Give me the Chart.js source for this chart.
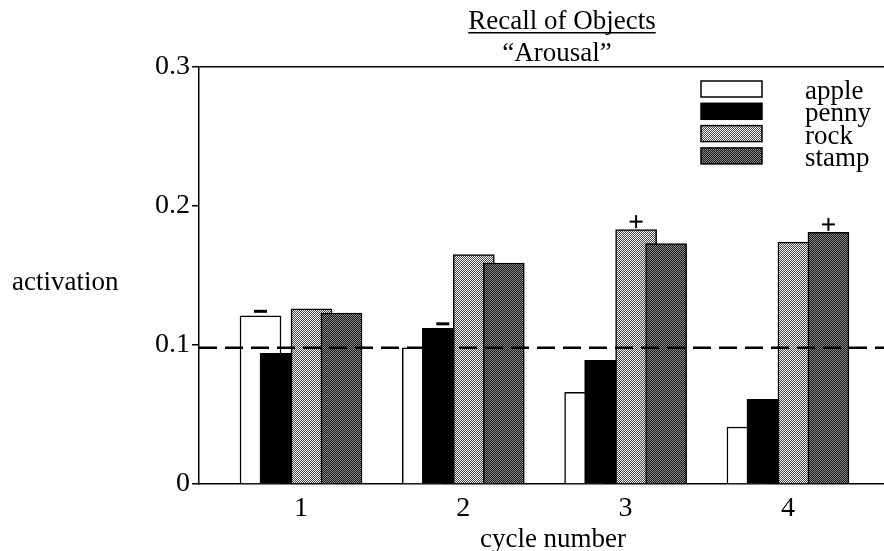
<!DOCTYPE html>
<html>
<head>
<meta charset="utf-8">
<title>Recall of Objects</title>
<script src="https://cdn.jsdelivr.net/npm/chart.js@4.4.1/dist/chart.umd.min.js"></script>
<style>
  html, body { margin: 0; padding: 0; background: #fff; }
  canvas { display: block; }
</style>
</head>
<body>
<canvas id="recall" width="884" height="551"></canvas>
<script>
const cycles = [1, 2, 3, 4];
const seriesNames = ['apple', 'penny', 'rock', 'stamp'];
const apple = [0.121, 0.098, 0.066, 0.041];
const penny = [0.094, 0.112, 0.089, 0.061];
const rock = [0.126, 0.165, 0.183, 0.174];
const stamp = [0.123, 0.159, 0.173, 0.181];
const yTicks = [0, 0.1, 0.2, 0.3];
const baseline = 0.098;
// series, cycle, sign
const marks = [
    ['apple', 1, '-'],
    ['penny', 2, '-'],
    ['rock', 3, '+'],
    ['stamp', 4, '+'],
];

const seriesValues = { apple, penny, rock, stamp };
const FONT = '"Liberation Serif", "Times New Roman", serif';

// bars inside a cycle overlap, so each series sits at its own shift from the cycle
const barShift = { apple: -0.2495, penny: -0.1263, rock: 0.0647, stamp: 0.2495 };

function makeStipple(light, dark) {
    const c = document.createElement('canvas');
    c.width = 2;
    c.height = 2;
    const g = c.getContext('2d');
    g.fillStyle = light;
    g.fillRect(0, 0, 2, 2);
    g.fillStyle = dark;
    g.fillRect(1, 0, 1, 1);
    g.fillRect(0, 1, 1, 1);
    return g.createPattern(c, 'repeat');
}

const fills = {
    apple: '#ffffff',
    penny: '#000000',
    rock: makeStipple('#f4f4f4', '#4a4a4a'),
    stamp: makeStipple('#8c8c8c', '#141414'),
};

const datasets = seriesNames.map((name, i) => ({
    label: name,
    data: cycles.map((c, j) => ({ x: c + barShift[name], y: seriesValues[name][j] })),
    backgroundColor: fills[name],
    borderColor: '#000',
    borderWidth: 1.5,
    borderSkipped: 'start',
    barThickness: 41,
    grouped: false,
    // later series are painted over earlier ones
    order: seriesNames.length - i,
}));

const decorations = {
    id: 'decorations',
    afterDatasetsDraw(chart) {
        const { ctx, chartArea: area, scales: { y } } = chart;
        ctx.save();

        // dashed reference level
        const yb = y.getPixelForValue(baseline);
        ctx.strokeStyle = '#000';
        ctx.lineWidth = 2.5;
        ctx.setLineDash([18, 8]);
        ctx.beginPath();
        ctx.moveTo(area.left, yb);
        ctx.lineTo(area.right, yb);
        ctx.stroke();
        ctx.setLineDash([]);

        // + / - marks over bars
        ctx.fillStyle = '#000';
        marks.forEach(([name, cycle, sign]) => {
            const meta = chart.getDatasetMeta(seriesNames.indexOf(name));
            const bar = meta.data[cycles.indexOf(cycle)];
            if (sign === '-') {
                ctx.fillRect(bar.x - 6.5, bar.y - 6, 13, 3);
            } else {
                const cy = bar.y - 8;
                ctx.fillRect(bar.x - 6.5, cy - 1, 13, 2);
                ctx.fillRect(bar.x - 1, cy - 6.5, 2, 13);
            }
        });
        ctx.restore();
    },
    afterDraw(chart) {
        const { ctx } = chart;
        ctx.save();
        ctx.fillStyle = '#000';
        ctx.textBaseline = 'alphabetic';
        ctx.font = '27px ' + FONT;

        // title
        ctx.textAlign = 'center';
        const title = 'Recall of Objects';
        ctx.fillText(title, 562, 29);
        const tw = ctx.measureText(title).width;
        ctx.fillRect(562 - tw / 2, 32, tw, 1.5);
        ctx.fillText('\u201CArousal\u201D', 557, 61);

        // axis titles
        ctx.fillText('cycle number', 553, 547);
        ctx.textAlign = 'left';
        ctx.fillText('activation', 12, 290);

        // legend
        seriesNames.forEach((name, i) => {
            const top = 81 + i * 22.3;
            ctx.fillStyle = chart.data.datasets[i].backgroundColor;
            ctx.fillRect(701, top, 61, 16);
            ctx.strokeStyle = '#000';
            ctx.lineWidth = 1.5;
            ctx.strokeRect(701, top, 61, 16);
            ctx.fillStyle = '#000';
            ctx.fillText(name, 805, top + 18);
        });
        ctx.restore();
    },
};

new Chart(document.getElementById('recall'), {
    type: 'bar',
    data: { datasets },
    plugins: [decorations],
    options: {
        responsive: false,
        devicePixelRatio: 1,
        animation: false,
        events: [],
        layout: { padding: { top: 67, right: 0, bottom: 0, left: 0 } },
        plugins: {
            legend: { display: false },
            tooltip: { enabled: false },
            title: { display: false },
        },
        scales: {
            x: {
                type: 'linear',
                min: 0.3715,
                max: 4.592,
                offset: false,
                grid: { display: false, drawTicks: false },
                border: { color: '#000', width: 1.5 },
                afterBuildTicks: s => { s.ticks = cycles.map(v => ({ value: v })); },
                afterFit: s => { s.height = 67; },
                ticks: {
                    color: '#000',
                    font: { family: FONT, size: 28 },
                    padding: 8,
                    maxRotation: 0,
                    autoSkip: false,
                    callback: v => String(v),
                },
            },
            y: {
                min: 0,
                max: 0.3,
                afterBuildTicks: s => { s.ticks = yTicks.map(v => ({ value: v })); },
                afterFit: s => { s.width = 199; },
                grid: {
                    color: c => (c.tick && c.tick.value === 0.3 ? '#000' : 'rgba(0,0,0,0)'),
                    tickColor: '#000',
                    lineWidth: 1.5,
                    tickLength: 7,
                },
                border: { color: '#000', width: 1.5 },
                ticks: {
                    color: '#000',
                    font: { family: FONT, size: 28 },
                    padding: 2,
                    callback: v => (v === 0 ? '0' : v.toFixed(1)),
                },
            },
        },
    },
});
</script>
</body>
</html>
